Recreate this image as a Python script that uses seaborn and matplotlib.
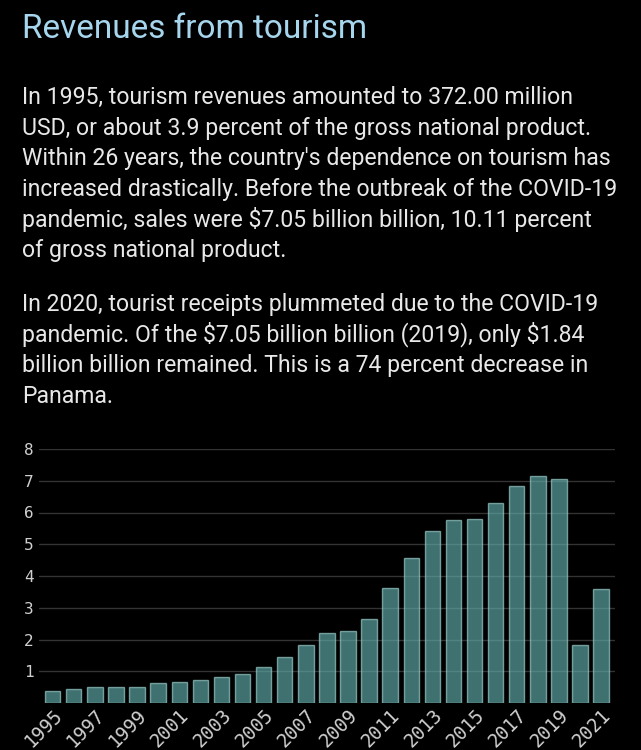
import matplotlib
matplotlib.use("Agg")
import matplotlib.pyplot as plt
import seaborn as sns
import pandas as pd

years = [str(y) for y in range(1995, 2022)]
revenue = [0.37, 0.45, 0.49, 0.51, 0.51, 0.63, 0.67, 0.73, 0.82, 0.90,
           1.12, 1.44, 1.82, 2.21, 2.28, 2.63, 3.63, 4.58, 5.43, 5.75,
           5.78, 6.29, 6.85, 7.15, 7.05, 1.84, 3.60]
yticks = [1, 2, 3, 4, 5, 6, 7, 8]

title = "Revenues from tourism"
para1 = ["In 1995, tourism revenues amounted to 372.00 million",
         "USD, or about 3.9 percent of the gross national product.",
         "Within 26 years, the country's dependence on tourism has",
         "increased drastically. Before the outbreak of the COVID-19",
         "pandemic, sales were \\$7.05 billion billion, 10.11 percent",
         "of gross national product."]
para2 = ["In 2020, tourist receipts plummeted due to the COVID-19",
         "pandemic. Of the \\$7.05 billion billion (2019), only \\$1.84",
         "billion billion remained. This is a 74 percent decrease in",
         "Panama."]

df = pd.DataFrame({"year": years, "revenue": revenue})

sns.set_theme(style="dark")
W, H = 641, 750
fig = plt.figure(figsize=(W / 100, H / 100), dpi=100, facecolor="black")

# text
fig.text(22 / W, 1 - 37.5 / H, title, fontfamily="Roboto", fontsize=24,
         color="#a6d6ee", va="baseline", ha="left")
base1 = 104
step = 30.7
for i, line in enumerate(para1):
    fig.text(22 / W, 1 - (base1 + i * step) / H, line, fontfamily="Roboto",
             fontsize=16.6, color="#e8e8e8", va="baseline", ha="left")
base2 = 311
for i, line in enumerate(para2):
    fig.text(22 / W, 1 - (base2 + i * step) / H, line, fontfamily="Roboto",
             fontsize=16.6, color="#e8e8e8", va="baseline", ha="left")

ax = fig.add_axes([39 / W, 47 / H, (615 - 39) / W, (703 - 449) / H])
ax.set_facecolor("black")
sns.barplot(data=df, x="year", y="revenue", ax=ax, color="#5fa8a8",
            alpha=0.68, width=0.73, edgecolor="#9fd0cc", linewidth=1.0,
            saturation=1)
for p in ax.patches:
    p.set_edgecolor("#9ccfcb")
ax.set_xlim(-0.65, 26.66)
ax.set_ylim(0, 8)
ax.set_yticks(yticks)
ax.set_yticklabels([str(t) for t in yticks])
ax.yaxis.grid(True, color="#333333", linewidth=1)
ax.xaxis.grid(False)
ax.set_axisbelow(True)
for s in ax.spines.values():
    s.set_visible(False)
ax.set_xlabel("")
ax.set_ylabel("")
ax.tick_params(axis="y", length=0, pad=4, labelsize=11.5, labelcolor="#d0d0d0")
ax.tick_params(axis="x", length=0, pad=2, labelsize=13.5, labelcolor="#d0d0d0")
labels = [y if i % 2 == 0 else "" for i, y in enumerate(years)]
ax.set_xticks(range(len(years)))
ax.set_xticklabels(labels, rotation=45, ha="right", rotation_mode="anchor",
                   fontfamily="DejaVu Sans Mono")
for t in ax.get_yticklabels():
    t.set_fontfamily("DejaVu Sans Mono")

fig.savefig("out.png", dpi=100, facecolor="black")
